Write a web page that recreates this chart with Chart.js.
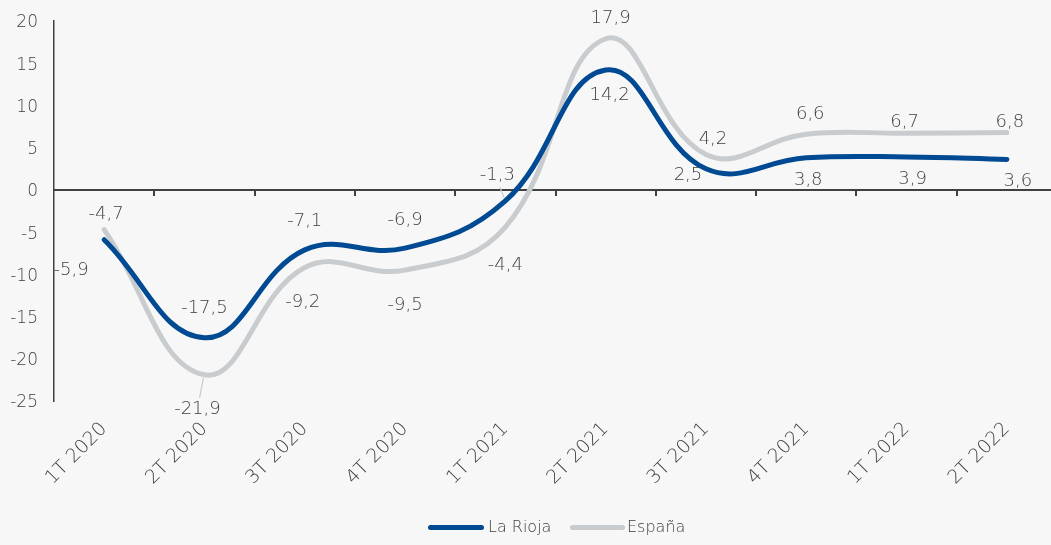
<!DOCTYPE html>
<html><head><meta charset="utf-8">
<script src="https://cdn.jsdelivr.net/npm/chart.js@4/dist/chart.umd.min.js"></script>
<style>
html,body{margin:0;padding:0;background:#f7f7f7;overflow:hidden;width:1051px;height:545px;}
#wrap{position:absolute;left:0;top:0;width:1058px;height:545px;}
#legend{position:absolute;left:0;top:0;width:1051px;height:545px;pointer-events:none;font-family:"DejaVu Sans",sans-serif;font-weight:200;font-size:16px;color:#404040;}
.sw{position:absolute;height:5px;border-radius:3px;top:525px;}
.lt{position:absolute;top:517px;line-height:20px;}
</style>
</head><body>
<div id="wrap"><canvas id="c" width="1058" height="545"></canvas></div>
<div id="legend">
  <div class="sw" style="left:428px;width:56px;background:#004a93"></div><div class="lt" style="left:488px">La Rioja</div>
  <div class="sw" style="left:570px;width:55px;background:#c9cccf"></div><div class="lt" style="left:627px">España</div>
</div>
<script>
const categories = ['1T 2020','2T 2020','3T 2020','4T 2020','1T 2021','2T 2021','3T 2021','4T 2021','1T 2022','2T 2022'];
const laRioja = [-5.9,-17.5,-7.1,-6.9,-1.3,14.2,2.5,3.8,3.9,3.6];
const espana  = [-4.7,-21.9,-9.2,-9.5,-4.4,17.9,4.2,6.6,6.7,6.8];
const yMin = -25, yMax = 20, yStep = 5;

const FONT = '"DejaVu Sans", sans-serif';
const TXT = '#404040';

// label placement (dx, dy) relative to each point
const riojaLabelPos = [[-33,29],[0,-31],[0,-31],[0,-30],[-8,-28],[4,23],[-18,5],[2,21],[6,20],[11,20]];
const espanaLabelPos = [[2,-17],[-7,33],[-2,33],[0,33],[0,36],[5,-22],[7,-17],[4,-22],[-2,-13],[3,-12]];

const fmt = v => v.toFixed(1).replace('.', ',');

const zeroAxis = {
  id: 'zeroAxis',
  beforeDatasetsDraw(chart) {
    const {ctx, scales, chartArea} = chart;
    const y0 = Math.round(scales.y.getPixelForValue(0));
    ctx.save();
    ctx.fillStyle = '#404040';
    ctx.fillRect(chartArea.left, y0 - 1, chartArea.right - chartArea.left, 2);
    for (let i = 0; i < categories.length - 1; i++) {
      const x = Math.round((scales.x.getPixelForValue(i) + scales.x.getPixelForValue(i + 1)) / 2);
      ctx.fillRect(x - 1, y0, 2, 6);
    }
    ctx.restore();
  }
};

const dataLabels = {
  id: 'dataLabels',
  afterDatasetsDraw(chart) {
    const {ctx} = chart;
    ctx.save();
    ctx.font = '200 18px ' + FONT;
    ctx.fillStyle = TXT;
    ctx.textAlign = 'center';
    ctx.textBaseline = 'middle';
    chart.data.datasets.forEach((ds, di) => {
      const meta = chart.getDatasetMeta(di);
      meta.data.forEach((pt, i) => {
        const [dx, dy0] = ds.labelPos[i];
        const dy = dy0 + 2;
        if (ds.leader && ds.leader[i]) {
          const up = dy < 0 ? -1 : 1;
          ctx.save();
          ctx.strokeStyle = '#c9cccf';
          ctx.lineWidth = 1.2;
          ctx.beginPath();
          ctx.moveTo(pt.x + dx * 0.15, pt.y + up * 3);
          ctx.lineTo(pt.x + dx * 0.7, pt.y + dy - up * 12);
          ctx.stroke();
          ctx.restore();
        }
        ctx.fillText(fmt(ds.data[i]), pt.x + dx, pt.y + dy);
      });
    });
    ctx.restore();
  }
};

new Chart(document.getElementById('c'), {
  type: 'line',
  data: {
    labels: categories,
    datasets: [
      {label: 'La Rioja', data: laRioja, borderColor: '#004a93', backgroundColor: '#004a93',
       borderWidth: 5, pointRadius: 0, tension: 0.42, borderCapStyle: 'round', borderJoinStyle: 'round',
       labelPos: riojaLabelPos, leader: [false,false,false,false,true,false,false,false,false,false], order: 1},
      {label: 'España', data: espana, borderColor: '#c9cccf', backgroundColor: '#c9cccf',
       borderWidth: 5, pointRadius: 0, tension: 0.42, borderCapStyle: 'round', borderJoinStyle: 'round',
       labelPos: espanaLabelPos, leader: [false,true,false,false,false,false,false,false,false,false], order: 2}
    ]
  },
  options: {
    responsive: false,
    animation: false,
    devicePixelRatio: 1,
    layout: {padding: {top: 21, right: 1, bottom: 0, left: 0}},
    plugins: {legend: {display: false}, tooltip: {enabled: false}},
    scales: {
      x: {
        offset: true,
        grid: {display: false, drawTicks: false},
        border: {display: false},
        ticks: {color: TXT, font: {family: FONT, size: 19, weight: 200}, maxRotation: 45, minRotation: 45, padding: 17, autoSkip: false},
        afterFit(s) { s.height = 144; s.paddingLeft = 0; s.paddingRight = 0; }
      },
      y: {
        min: yMin, max: yMax,
        grid: {display: false, drawTicks: false},
        border: {display: true, color: '#404040', width: 1.5},
        ticks: {stepSize: yStep, color: TXT, font: {family: FONT, size: 17, weight: 200}, padding: 16, labelOffset: 2},
        afterFit(s) { s.width = 54; s.paddingTop = 0; s.paddingBottom = 0; }
      }
    }
  },
  plugins: [zeroAxis, dataLabels]
});
</script>
</body></html>
